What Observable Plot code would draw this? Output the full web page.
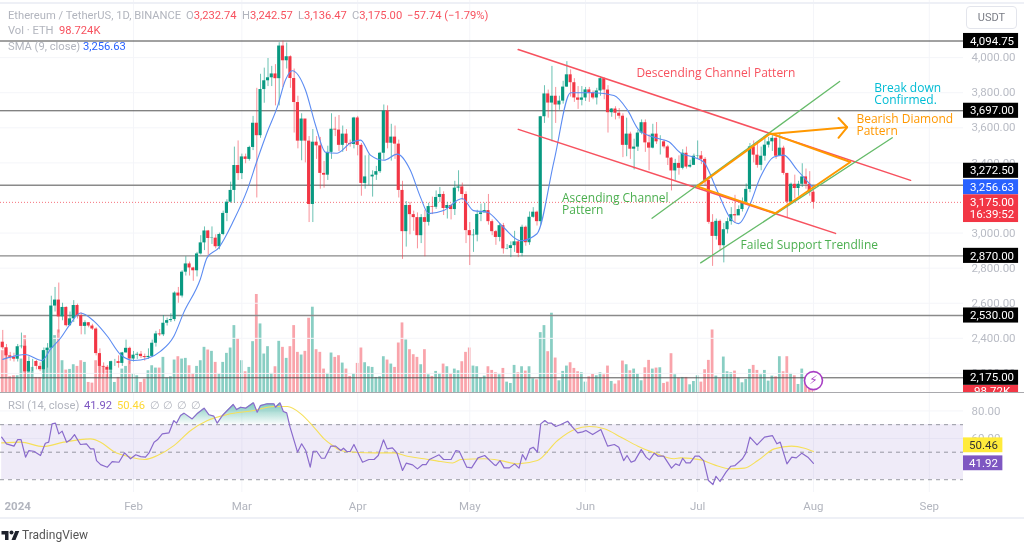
<!DOCTYPE html>
<html><head><meta charset="utf-8">
<script src="https://cdn.jsdelivr.net/npm/d3@7"></script>
<script src="https://cdn.jsdelivr.net/npm/@observablehq/plot@0.6"></script>
<style>
html,body{margin:0;padding:0;background:#fff;overflow:hidden}
#chart{position:relative;width:1024px;height:542px;font-family:Roboto,sans-serif;overflow:hidden;filter:blur(.35px)}
#chart svg,#chart .layer{position:absolute;left:0}
.h{position:absolute;font-size:11.2px;white-space:pre;line-height:14px;color:#b2b5be}
.r{color:#f7525f}.b{color:#2962ff}.p{color:#7e57c2}.y{color:#fdd835}
.line{position:absolute;left:0;width:1024px}
</style></head><body><div id="chart"></div>
<script>
// Day numbers count from 1 Jan 2024 = 0
const firstDay = -4;
const firstOpen = 2378;
const closes = [
2346,2300,2292,2281,2352,2355,2209,2268,2268,2240,
2221,2330,2344,2584,2618,2522,2576,2472,2511,2587,
2529,2468,2489,2470,2453,2313,2240,2235,2218,2267,
2267,2257,2317,2343,2282,2304,2309,2296,2290,2297,
2372,2425,2420,2486,2501,2507,2658,2641,2777,2824,
2801,2785,2881,2944,3012,2969,2971,2922,2992,3112,
3176,3243,3385,3339,3434,3420,3488,3626,3555,3818,
3868,3885,3907,3880,4066,3982,4005,3881,3744,3524,
3650,3524,3163,3518,3497,3340,3330,3460,3592,3587,
3500,3564,3511,3505,3656,3500,3283,3320,3320,3330,
3350,3455,3696,3512,3547,3507,3243,3008,3157,3105,
3088,2985,3088,3061,3151,3147,3203,3220,3140,3157,
3134,3256,3263,3220,3014,2985,2988,3106,3115,3128,
3065,3008,2975,3042,2910,2912,2928,2950,2884,3033,
2945,3090,3119,3065,3663,3793,3741,3780,3730,3752,
3832,3902,3857,3770,3757,3770,3816,3798,3770,3810,
3880,3815,3686,3707,3683,3666,3500,3564,3478,3490,
3570,3629,3514,3484,3564,3520,3520,3491,3427,3354,
3397,3369,3455,3376,3386,3438,3440,3420,3300,3061,
2981,3067,2928,3019,3065,3105,3098,3134,3176,3249,
3491,3444,3386,3438,3501,3520,3540,3438,3484,3340,
3176,3278,3254,3278,3320,3278,3233,3175];
const highs = [
2445,2365,2320,2315,2365,2430,2385,2295,2280,2275,
2260,2345,2370,2640,2690,2715,2600,2580,2550,2615,
2595,2545,2500,2490,2480,2460,2340,2260,2245,2270,
2280,2300,2320,2390,2350,2325,2320,2325,2310,2340,
2390,2440,2450,2530,2515,2540,2665,2690,2785,2865,
2835,2805,2890,2985,3035,3015,3035,2990,3000,3125,
3190,3290,3490,3525,3450,3450,3495,3665,3825,3905,
3940,3995,3950,3960,4085,4094,4083,4010,3935,3780,
3680,3645,3550,3590,3550,3545,3408,3495,3680,3660,
3670,3610,3590,3530,3660,3665,3510,3440,3445,3355,
3380,3460,3730,3725,3620,3610,3530,3295,3180,3175,
3125,3115,3105,3130,3170,3205,3240,3260,3235,3175,
3165,3295,3355,3285,3235,3060,3020,3130,3165,3170,
3220,3075,3015,3055,3055,2935,2950,3010,2960,3045,
3040,3120,3145,3125,3665,3840,3815,3950,3830,3780,
3865,3977,3930,3880,3835,3835,3830,3830,3810,3825,
3890,3885,3840,3710,3720,3710,3680,3655,3575,3535,
3585,3645,3645,3560,3620,3630,3555,3530,3500,3430,
3420,3440,3475,3490,3415,3450,3525,3465,3430,3310,
3105,3080,3075,3055,3085,3145,3215,3155,3200,3280,
3510,3525,3515,3490,3540,3545,3565,3560,3565,3495,
3340,3285,3330,3295,3395,3365,3350,3242.57];
const lows = [
2335,2280,2270,2265,2265,2340,2100,2205,2210,2220,
2210,2165,2230,2340,2550,2430,2500,2465,2470,2490,
2510,2420,2420,2460,2445,2300,2170,2195,2170,2170,
2240,2230,2240,2315,2250,2265,2280,2285,2270,2280,
2290,2350,2410,2410,2470,2490,2495,2600,2630,2755,
2755,2725,2750,2875,2900,2870,2935,2910,2905,2985,
3065,3170,3170,3300,3305,3395,3410,3470,3200,3540,
3740,3835,3835,3725,3725,3830,3935,3825,3570,3480,
3412,3400,3060,3060,3420,3250,3256,3300,3420,3550,
3465,3460,3465,3490,3480,3440,3210,3250,3270,3205,
3300,3340,3415,3480,3410,3420,3200,2850,2920,2990,
3010,2910,2940,2865,3040,3105,3135,3175,3100,3080,
3075,3100,3235,3185,2940,2815,2890,2950,3065,3120,
3045,2985,2930,2950,2880,2905,2860,2890,2860,2865,
2925,2930,3085,3040,3045,3625,3655,3520,3625,3700,
3735,3830,3775,3745,3705,3725,3750,3745,3760,3730,
3780,3760,3570,3660,3645,3650,3430,3435,3420,3360,
3465,3560,3460,3355,3480,3505,3445,3480,3385,3240,
3300,3330,3360,3365,3370,3385,3420,3390,3265,3050,
2810,2960,2900,2830,2995,3045,3055,3110,3120,3160,
3230,3400,3370,3355,3410,3485,3465,3420,3440,3330,
3085,3170,3195,3210,3260,3250,3210,3136.47];
const volumesK = [
500,532,188,200,200,400,680,260,300,180,
180,460,500,620,680,748,380,268,276,332,
312,380,360,120,112,380,440,300,260,260,
120,180,280,312,380,220,200,120,160,260,
320,292,292,420,172,188,388,428,400,408,
320,220,312,380,540,508,492,360,220,360,
468,532,800,644,380,248,300,608,1172,820,
460,548,228,308,612,540,408,548,800,480,
448,492,888,1020,512,480,280,228,472,420,
440,352,280,192,220,348,532,356,308,300,
180,188,428,388,340,300,592,832,628,512,
452,420,332,512,212,192,252,228,340,308,
220,280,260,368,480,532,316,308,172,196,
308,264,236,212,288,124,108,324,236,308,
256,308,164,152,716,800,488,948,412,140,
252,316,356,288,248,236,124,188,216,200,
236,212,316,132,100,140,376,332,260,280,
220,140,296,384,280,292,296,108,124,464,
212,172,180,180,92,132,200,124,272,384,
748,196,164,424,248,236,256,172,116,156,
276,324,264,212,264,136,196,188,428,248,
428,228,200,96,280,140,60,98.7];
const smaDays = [-4,0,2,6.5,8.8,11.5,14,16.8,20.4,24,27.5,31.1,34.7,38.2,41.8,44.4,48.9,50.7,53.8,57.8,61.4,64.1,66.8,69.5,71.7,73.5,77,79.7,82.4,85.5,89,91.8,94.4,98,101.6,105.1,107.8,110,114,119,122,125.7,130,134.6,139,143.6,148,154.3,159.6,163.2,166.3,171.2,174.3,177.4,181,183.6,187.2,190.8,193,195.7,198.8,202.4,205,208.7,213];
const smaValues = [2280,2303,2308,2274,2338,2402,2480,2544,2498,2412,2308,2274,2285,2326,2412,2545,2738,2860,2916,3071,3243,3415,3576,3719,3874,3925,3817,3616,3461,3455,3512,3530,3444,3415,3450,3358,3205,3111,3128,3197,3128,3119,3033,2956,2996,3415,3800,3800,3784,3702,3587,3540,3520,3457,3432,3405,3243,3083,3054,3147,3319,3434,3444,3358,3256.63];
const rsiDays = [-4.3,-3,-1,0,0.9,2.1,3,4.3,6.1,7.4,8.3,9.2,10.1,11,11.9,13.1,14.1,15.2,16.8,18.4,19.5,20.4,21.1,22.2,24,25.3,27.1,28.6,30.2,31.6,32.9,34.2,35.1,36.5,37.4,38.7,40.5,41.8,42.5,43.6,44.5,46.7,48,49.9,51.2,52.5,53.4,54.8,56.1,57.7,58.6,59.7,61,63.1,64.1,65,66.8,68.6,69,70.2,71.1,72,72.9,74.9,76,77.1,78.3,79.1,80,81.3,82.2,83.8,85.1,86.5,87.2,88.1,89,90,92.3,94,95.4,96.5,97.9,98.9,100.3,101.5,103,104,105.7,107,108.4,109.3,110.2,112.8,114,116,117.3,118.2,120.2,121.5,123.2,125,127.6,128,129.1,130.2,131.6,133,134.2,135.1,136,137.1,138,139.1,140,141.1,142,142.9,144,145.4,147.2,148.5,149.9,151.2,152.1,153.9,156.1,157.9,159.7,160.9,162.2,163.1,164.2,165.2,166.9,168.2,169.1,170.4,171.4,172.9,175,176.1,177.1,178,178.9,180,181.3,182.4,183.6,184.9,186.1,186.9,188,189.6,190.9,192,194,194.9,196,197.9,199.9,202,203.2,204.1,205.9,207.2,208.4,209.9,211.5,213];
const rsiValues = [60.9,56.1,54.4,59.2,59.2,46.4,51.2,50.7,47.6,56.5,57.3,70.6,71.1,63.3,65.3,57.3,59,62.8,55.6,56.1,52.4,52.4,43.9,41,39.1,43.2,42.7,49.5,45.2,48.1,46.8,46.4,49.3,57.3,59,63.3,64.1,73,71.1,76.7,78.4,74.2,77.9,82,77.2,76.2,71.1,76.7,80.3,84.7,81,82.7,82,85.9,79.1,83.9,85.2,85.2,82.7,85.9,79.6,78.6,68.2,50,56.1,51.2,39.1,50.7,50.7,45.6,45.6,54.4,54.4,51.2,52.9,50.5,50.5,55.6,42.7,44.7,44.7,47.6,59,52.4,53.2,49.5,36.7,42,40.8,37.9,41,41,44.7,48.1,44.7,44.7,51.2,50.7,39.1,38.6,45.9,47.6,40.8,40.3,43.9,38.6,38.6,41.5,38.4,48.3,44.4,52.4,53.6,50,70.6,73,71.1,71.1,68.7,70.1,72.5,68.2,64.1,64.8,65.8,62.8,66.5,54.4,55.6,53.6,43.9,47.6,42.7,43.9,51.9,46.4,44.4,49.3,47.1,47.1,38.4,41.5,40.3,45.6,42.2,42.2,47.1,47.1,43.9,29.4,26.5,32.5,28.7,35.5,39.8,40.3,45.2,49.3,60.9,55.3,60.9,62.1,56.1,57.3,41.5,46.4,45.9,49.3,46.4,41.92];
const signalDays = [-4.3,0.75,6.9,12.3,19.5,22.2,25.7,30.2,34,37.4,41.8,46.3,50.8,56.1,63.2,68.6,72.2,75.8,78.9,82,84.7,86.5,90.9,95.4,100.8,104.3,108.8,113.3,116.4,118.6,124.9,129.3,133.8,139.1,144.5,149,153,157,161.5,166,170.4,175.7,177.5,182.9,186.5,190.9,194.5,198.1,202.5,207.1,210.6,213];
const signalValues = [56.8,57.3,54.1,57.3,59.7,57.3,50.5,46.4,44.7,47.6,54.8,65.8,73,77.4,80.3,83.2,83.2,77.9,69.4,59.7,54.1,51.2,49.8,49.5,49.5,47.1,45.2,43.2,42.2,44.7,45.2,43.9,41.5,43.9,58.5,66.5,68.7,67,60.9,54.4,49.5,45.2,45.9,44.4,40.8,37.9,38.4,43.9,52.4,54.4,52.9,50.46];

const levels = [4094.75,3697,3272.5,2870,2530,2175];
const levelColors = ["#444","#555","#8a8a8a","#8a8a8a","#8a8a8a","#555"];
const priceTicks = [4000,3800,3600,3400,3000,2800,2600,2400,2200];
const lastPrice = 3175;
const months = ["2024-02-01","2024-03-01","2024-04-01","2024-05-01","2024-06-01","2024-07-01","2024-08-01","2024-09-01"];

const redUpper = [[133.97,4046],[239,3300.5]];
const redLower = [[134,3591],[218.9,2998]];
const greenUpper = [[169.8,3084],[220,3864]];
const greenLower = [[182.8,2830],[234.1,3543]];
const diamond = [[181.9,3266],[201.5,3568],[222.9,3405],[202.8,3113],[181.9,3266]];
const arrowShaft = [[201.5,3564],[222,3603]];
const arrowHead = [[219.7,3656],[222,3603],[219.7,3543]];

const redNotes = [[165.6,3914,"Descending Channel Pattern"]];
const cyanNotes = [[229.3,3828,"Break down"],[229.3,3759,"Confirmed."]];
const orangeNotes = [[224.5,3650,"Bearish Diamond"],[224.5,3581,"Pattern"]];
const greenNotes = [[145.7,3197,"Ascending Channel"],[145.7,3128,"Pattern"],[193.5,2933,"Failed Support Trendline"]];

// tag: label, centre price, fill, text colour
const priceTags = [
  ["4,094.75",4094.75,"#000"],["3,697.00",3697,"#000"],["3,272.50",3355,"#000"],
  ["3,256.63",3261,"#2962ff"],["2,870.00",2870,"#000"],["2,530.00",2530,"#000"],["2,175.00",2175,"#000"]];
const rsiTags = [["50.46",55,"#ffeb3b","#333"],["41.92",41.92,"#7e57c2","#fff"]];

if (![highs,lows,volumesK].every(a=>a.length===closes.length)) throw new Error("length mismatch "+[closes.length,highs.length,lows.length,volumesK.length]);
if (smaDays.length!==smaValues.length||rsiDays.length!==rsiValues.length||signalDays.length!==signalValues.length) throw new Error("series mismatch");

const base = Date.UTC(2024,0,1);
const day = i => new Date(base + i*864e5);
const candles = closes.map((c,k)=>({i:firstDay+k,date:day(firstDay+k),open:k?closes[k-1]:firstOpen,close:c,high:highs[k],low:lows[k],vol:volumesK[k]}));
const up = candles.filter(d=>d.close>=d.open), down = candles.filter(d=>d.close<d.open);
const GREEN="#089981", RED="#f23645";
const xScale = {domain:[day(-4.604),day(253.16)],range:[0,963]};
const FONT='Roboto,sans-serif';
const NOTEFONT='"Open Sans",sans-serif';
const pts = a=>a.map(([i,p])=>({x:day(i),y:p}));
const poly = (a,stroke,w)=>Plot.line(pts(a),{x:"x",y:"y",stroke,strokeWidth:w,curve:"linear"});
const notes = (a,fill)=>Plot.text(a,{x:d=>day(d[0]),y:d=>d[1],text:d=>d[2],fill,textAnchor:"start",fontSize:12,fontFamily:NOTEFONT});
const pair = (days,vals)=>days.map((d,k)=>({x:day(d),y:vals[k]}));
const hw=0.42, vw=0.37;
const root=document.getElementById("chart");

// volume layer (own scale, under the candles)
const vol = Plot.plot({width:1024,height:392,marginTop:0,marginBottom:0,marginLeft:0,marginRight:61,
  style:{background:"transparent"},
  x:{...xScale,axis:null}, y:{domain:[0,1172],range:[392,294],axis:null},
  marks:[
    Plot.rect(up,{x1:d=>day(d.i-vw),x2:d=>day(d.i+vw),y1:0,y2:"vol",fill:GREEN,fillOpacity:.48}),
    Plot.rect(down,{x1:d=>day(d.i-vw),x2:d=>day(d.i+vw),y1:0,y2:"vol",fill:RED,fillOpacity:.45})
  ]});
vol.style.top="0";root.append(vol);

// price layer
const tagL=253.16, tagR=267.9, tagTxt=260.8;
const main = Plot.plot({width:1024,height:392,marginTop:0,marginBottom:0,marginLeft:0,marginRight:61,
  style:{background:"transparent",fontFamily:FONT},
  x:{...xScale,axis:null}, y:{domain:[2091.2,4325.6],range:[392,0]},
  marks:[
    Plot.gridY(priceTicks,{stroke:"#f4f5f9",strokeOpacity:1}),
    Plot.gridX(months.map(d=>new Date(d)),{stroke:"#f4f5f9",strokeOpacity:1}),
    ...levels.map((v,k)=>Plot.ruleY([v],{stroke:levelColors[k],strokeWidth:k>=2&&k<=4?1.4:1})),
    Plot.ruleY([lastPrice],{stroke:RED,strokeDasharray:"1,2",strokeOpacity:.7}),
    Plot.ruleX(up,{x:"date",y1:"low",y2:"high",stroke:GREEN,strokeOpacity:.6}),
    Plot.ruleX(down,{x:"date",y1:"low",y2:"high",stroke:RED,strokeOpacity:.55}),
    Plot.rect(up,{x1:d=>day(d.i-hw),x2:d=>day(d.i+hw),y1:"open",y2:"close",fill:GREEN}),
    Plot.rect(down,{x1:d=>day(d.i-hw),x2:d=>day(d.i+hw),y1:"open",y2:"close",fill:RED}),
    Plot.line(pair(smaDays,smaValues),{x:"x",y:"y",stroke:"#5c8cf2",strokeWidth:1.1,curve:"monotone-x"}),
    poly(redUpper,"#f7525f",1.5),poly(redLower,"#f7525f",1.5),
    poly(greenUpper,"#66bb6a",1.3),poly(greenLower,"#66bb6a",1.3),
    poly(diamond,"#ff9800",2),poly(arrowShaft,"#ff9800",2),poly(arrowHead,"#ff9800",2),
    notes(redNotes,"#f7525f"),notes(cyanNotes,"#00bcd4"),notes(orangeNotes,"#ff9800"),notes(greenNotes,"#4caf50"),
    Plot.axisY(priceTicks,{anchor:"right",tickSize:0,tickPadding:8,tickFormat:d3.format(",.2f"),label:null,color:"#b9bcc5",fontSize:11.5}),
    Plot.rect(priceTags,{x1:day(tagL),x2:day(tagR),y1:d=>d[1]-43,y2:d=>d[1]+43,fill:d=>d[2]}),
    Plot.rect([[3060,3218]],{x1:day(tagL),x2:day(tagR),y1:d=>d[0],y2:d=>d[1],fill:RED}),
    Plot.rect([[2091.2,2131]],{x1:day(tagL),x2:day(tagR),y1:d=>d[0],y2:d=>d[1],fill:RED}),
    Plot.text(priceTags,{x:day(tagTxt),y:d=>d[1],text:d=>d[0],fill:"#fff",fontSize:11.5}),
    Plot.text([["3,175.00",3177],["16:39:52",3106]],{x:day(tagTxt),y:d=>d[1],text:d=>d[0],fill:"#fff",fontSize:11.5}),
    Plot.text([["98.72K",2097]],{x:day(tagTxt),y:d=>d[1],text:d=>d[0],fill:"#fff",fontSize:11.5}),
    Plot.dot([[213,2159]],{x:d=>day(d[0]),y:d=>d[1],r:9,fill:"#fff",stroke:"#a83fc4",strokeWidth:1.6}),
    Plot.text([[213,2159]],{x:d=>day(d[0]),y:d=>d[1],text:()=>"⚡",fill:"#a83fc4",fontSize:12,fontFamily:"DejaVu Sans"})
  ]});
main.style.top="0";root.append(main);

// RSI pane
const rsiLine = pair(rsiDays,rsiValues);
const gradient = ()=>{const s=d3.create("svg:defs");const g=s.append("linearGradient").attr("id","ob").attr("x1",0).attr("x2",0).attr("y1",0).attr("y2",1);
  g.append("stop").attr("offset","0%").attr("stop-color",GREEN).attr("stop-opacity",.55);
  g.append("stop").attr("offset","100%").attr("stop-color",GREEN).attr("stop-opacity",.02);return s.node();};
const rsi = Plot.plot({width:1024,height:126,marginTop:0,marginBottom:26,marginLeft:0,marginRight:61,
  style:{background:"transparent",fontFamily:FONT},
  x:{...xScale}, y:{domain:[20.7,93.4],range:[100,0]},
  marks:[
    gradient,
    Plot.gridY([80,60],{stroke:"#f4f5f9",strokeOpacity:1}),
    Plot.gridX(months.map(d=>new Date(d)),{stroke:"#f4f5f9",strokeOpacity:1}),
    Plot.rect([[30,70]],{x1:day(-4.3),x2:day(253.16),y1:d=>d[0],y2:d=>d[1],fill:"#7e57c2",fillOpacity:.12}),
    Plot.ruleY([70,50,30],{stroke:"#787b86",strokeDasharray:"4,4",strokeOpacity:.75}),
    Plot.areaY(rsiLine,{x:"x",y1:70,y2:d=>Math.max(d.y,70),fill:"url(#ob)"}),
    Plot.line(pair(signalDays,signalValues),{x:"x",y:"y",stroke:"#f6e05a",strokeWidth:1.1,curve:"monotone-x"}),
    Plot.line(rsiLine,{x:"x",y:"y",stroke:"#8a6bcc",strokeWidth:1.2}),
    Plot.axisY([80,60],{anchor:"right",tickSize:0,tickPadding:8,tickFormat:d3.format(".2f"),label:null,color:"#b9bcc5",fontSize:11.5}),
    Plot.rect(rsiTags,{x1:day(tagL),x2:day(263.7),y1:d=>d[1]-5.4,y2:d=>d[1]+5.4,fill:d=>d[2]}),
    Plot.text(rsiTags,{x:day(258.5),y:d=>d[1],text:d=>d[0],fill:d=>d[3],fontSize:11.5}),
    Plot.axisX([new Date("2024-01-01")],{anchor:"bottom",tickSize:0,tickPadding:9,tickFormat:()=>"2024",label:null,color:"#b2b5be",fontWeight:700,fontSize:11.5}),
    Plot.axisX(months.map(d=>new Date(d)),{anchor:"bottom",tickSize:0,tickPadding:9,tickFormat:d3.utcFormat("%b"),label:null,color:"#b2b5be",fontSize:11.5})
  ]});
rsi.style.top="392px";root.append(rsi);

// chrome: frame lines, legends, currency button, logo
const add=(html)=>{const t=document.createElement("div");t.innerHTML=html;root.append(t.firstElementChild);};
add('<div class="line" style="top:2px;height:1.5px;background:#eef0f6"></div>');
add('<div class="line" style="top:391.5px;height:1.5px;background:#a9a9ad"></div>');
add('<div class="line" style="top:517px;height:2px;background:#eef0f6"></div>');
const legends=[
 [8,9,'Ethereum / TetherUS, 1D, BINANCE'],[186,9,'O<span class="r">3,232.74</span>'],[242,9,'H<span class="r">3,242.57</span>'],
 [298,9,'L<span class="r">3,136.47</span>'],[352,9,'C<span class="r">3,175.00</span>'],[407,9,'<span class="r">−57.74 (−1.79%)</span>'],
 [8,24,'Vol · ETH'],[59,24,'<span class="r">98.724K</span>'],
 [8,40,'SMA (9, close)'],[83,40,'<span class="b">3,256.63</span>'],
 [8,399,'RSI (14, close)'],[84,399,'<span class="p">41.92</span>'],[117,399,'<span class="y">50.46</span>'],[150,399,'∅'],[163,399,'∅'],[177,399,'∅'],[191,399,'∅']];
legends.forEach(([x,y,h])=>add(`<div class="h" style="left:${x}px;top:${y}px">${h}</div>`));
add('<div style="position:absolute;left:966px;top:6px;width:51px;height:23px;box-sizing:border-box;border:1px solid #e3e5ec;border-radius:4px;text-align:center;font-size:11px;line-height:21px;color:#7a7d86">USDT</div>');
add('<svg style="left:1px;top:529px" width="19" height="12" viewBox="0 0 36 24"><path fill="#1e222d" d="M14 22H7V11H0V4h14v18zM28 22h-8l7.5-18h8L28 22z"/><circle fill="#1e222d" cx="20" cy="7" r="4"/></svg>');
add('<div style="position:absolute;left:22px;top:527px;font-size:12px;line-height:16px;color:#555">TradingView</div>');
</script></body></html>
